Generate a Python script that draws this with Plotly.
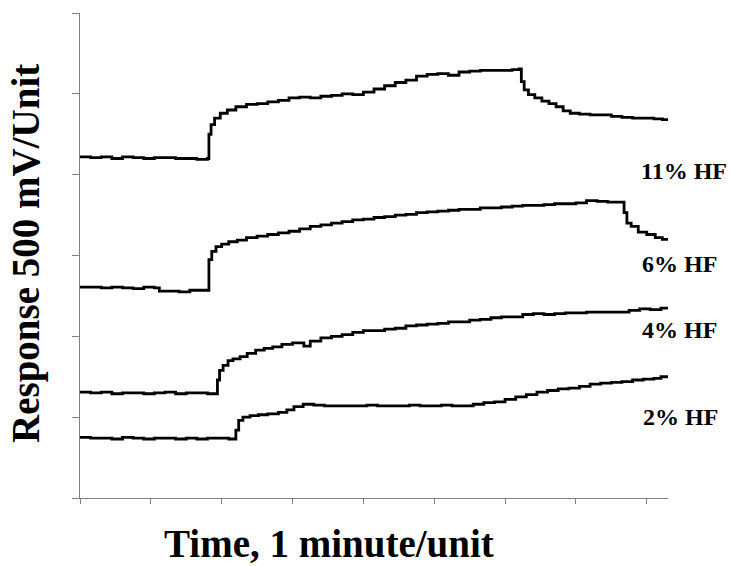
import plotly.graph_objects as go

# ---- data (time in minutes, response in 500 mV units) ----
s11_t = [0.00, 0.15, 0.30, 0.45, 0.60, 0.75, 0.90, 1.05, 1.20, 1.35, 1.50, 1.65, 1.80,
         1.82, 1.85, 1.90, 1.98, 2.08, 2.20, 2.35, 2.50, 2.65, 2.80, 2.95, 3.10, 3.25, 3.40, 3.55, 3.70,
         3.85, 4.00, 4.15, 4.30, 4.45, 4.60, 4.75, 4.90, 5.05, 5.20, 5.35, 5.50, 5.65, 5.80, 5.95, 6.10, 6.20,
         6.23, 6.27, 6.33, 6.42, 6.52, 6.62, 6.72, 6.82, 6.92, 7.05, 7.20, 7.35, 7.50, 7.65, 7.80, 7.95, 8.10, 8.22, 8.32]
s11_v = [4.22, 4.21, 4.22, 4.20, 4.22, 4.21, 4.20, 4.21, 4.21, 4.20, 4.20, 4.19, 4.20,
         4.50, 4.62, 4.70, 4.76, 4.80, 4.84, 4.87, 4.88, 4.90, 4.92, 4.95, 4.96, 4.95, 4.97, 4.98, 5.00,
         4.99, 5.02, 5.06, 5.10, 5.14, 5.17, 5.22, 5.24, 5.25, 5.23, 5.27, 5.28, 5.29, 5.29, 5.29, 5.30, 5.31,
         5.15, 5.05, 4.99, 4.95, 4.91, 4.88, 4.84, 4.79, 4.76, 4.75, 4.74, 4.74, 4.72, 4.71, 4.70, 4.70, 4.69, 4.68, 4.63]

s6_t = [0.00, 0.15, 0.30, 0.45, 0.60, 0.75, 0.90, 1.05, 1.12, 1.25, 1.40, 1.55, 1.70, 1.80,
        1.82, 1.86, 1.92, 2.00, 2.10, 2.22, 2.35, 2.50, 2.65, 2.80, 2.95, 3.10, 3.25, 3.40, 3.55, 3.70,
        3.85, 4.00, 4.15, 4.30, 4.45, 4.60, 4.75, 4.90, 5.05, 5.20, 5.35, 5.50, 5.65, 5.80, 5.95, 6.10,
        6.25, 6.40, 6.55, 6.70, 6.85, 7.00, 7.15, 7.30, 7.45, 7.60, 7.66,
        7.68, 7.72, 7.78, 7.88, 8.00, 8.12, 8.22, 8.32]
s6_v = [2.61, 2.61, 2.60, 2.61, 2.60, 2.59, 2.61, 2.60, 2.56, 2.56, 2.55, 2.57, 2.57, 2.57,
        2.95, 3.05, 3.11, 3.14, 3.17, 3.19, 3.22, 3.24, 3.26, 3.28, 3.30, 3.33, 3.36, 3.38, 3.40, 3.42,
        3.44, 3.45, 3.47, 3.48, 3.50, 3.51, 3.53, 3.54, 3.55, 3.56, 3.57, 3.57, 3.59, 3.59, 3.60, 3.61,
        3.62, 3.62, 3.63, 3.64, 3.64, 3.65, 3.68, 3.67, 3.66, 3.66, 3.66,
        3.53, 3.40, 3.36, 3.29, 3.26, 3.22, 3.20, 3.17]

s4_t = [0.00, 0.15, 0.30, 0.45, 0.60, 0.75, 0.90, 1.05, 1.20, 1.35, 1.50, 1.65, 1.80, 1.92,
        1.94, 1.97, 2.02, 2.09, 2.16, 2.26, 2.36, 2.48, 2.60, 2.72, 2.85, 3.00, 3.12, 3.16, 3.25, 3.40,
        3.55, 3.70, 3.85, 4.00, 4.15, 4.30, 4.45, 4.60, 4.75, 4.90, 5.05, 5.20, 5.35, 5.50, 5.65, 5.80,
        5.95, 6.10, 6.25, 6.40, 6.55, 6.70, 6.85, 7.00, 7.15, 7.30, 7.45, 7.60, 7.75, 7.90, 8.05, 8.20, 8.32]
s4_v = [1.31, 1.30, 1.31, 1.29, 1.30, 1.30, 1.29, 1.30, 1.31, 1.29, 1.30, 1.30, 1.29, 1.29,
        1.46, 1.58, 1.64, 1.70, 1.72, 1.75, 1.79, 1.83, 1.85, 1.87, 1.90, 1.92, 1.92, 1.88, 1.94, 1.98,
        2.00, 2.02, 2.05, 2.07, 2.07, 2.09, 2.10, 2.13, 2.14, 2.15, 2.16, 2.18, 2.18, 2.20, 2.21, 2.23,
        2.24, 2.24, 2.27, 2.28, 2.27, 2.28, 2.29, 2.29, 2.30, 2.30, 2.30, 2.30, 2.32, 2.34, 2.33, 2.35, 2.35]

s2_t = [0.00, 0.15, 0.30, 0.45, 0.60, 0.75, 0.90, 1.05, 1.20, 1.35, 1.50, 1.65, 1.80, 1.95, 2.10, 2.18,
        2.20, 2.24, 2.30, 2.40, 2.52, 2.65, 2.80, 2.92, 3.02, 3.15, 3.30, 3.45, 3.60, 3.75, 3.90, 4.05,
        4.20, 4.35, 4.50, 4.65, 4.80, 4.95, 5.10, 5.25, 5.40, 5.55, 5.70, 5.85, 6.00, 6.15, 6.30, 6.45,
        6.60, 6.75, 6.90, 7.05, 7.20, 7.35, 7.50, 7.65, 7.80, 7.95, 8.10, 8.20, 8.32]
s2_v = [0.75, 0.74, 0.74, 0.73, 0.75, 0.74, 0.73, 0.74, 0.74, 0.73, 0.74, 0.73, 0.74, 0.74, 0.73, 0.73,
        0.84, 0.96, 1.00, 1.02, 1.03, 1.04, 1.06, 1.09, 1.13, 1.16, 1.15, 1.14, 1.14, 1.14, 1.14, 1.15,
        1.14, 1.14, 1.14, 1.15, 1.14, 1.14, 1.15, 1.14, 1.14, 1.16, 1.18, 1.19, 1.22, 1.25, 1.28, 1.31,
        1.33, 1.35, 1.36, 1.38, 1.41, 1.42, 1.43, 1.44, 1.46, 1.47, 1.48, 1.50, 1.50]

series = [("11% HF", s11_t, s11_v), ("6% HF", s6_t, s6_v), ("4% HF", s4_t, s4_v), ("2% HF", s2_t, s2_v)]

labels = ["11% HF", "6% HF", "4% HF", "2% HF"]
label_x = [7.89, 7.91, 7.91, 7.92]
label_y = [4.05, 2.90, 2.08, 1.00]

x_ticks = [0, 1, 2, 3, 4, 5, 6, 7, 8]
y_ticks = [0, 1, 2, 3, 4, 5, 6]

FONT = "Liberation Serif, Times New Roman, serif"

fig = go.Figure()
for name, t, v in series:
    fig.add_trace(go.Scatter(x=t, y=v, mode="lines", name=name, line_shape="hv",
                             line=dict(color="black", width=2.8), cliponaxis=False,
                             showlegend=False, hoverinfo="skip"))

for lab, lx, ly in zip(labels, label_x, label_y):
    fig.add_annotation(x=lx, y=ly, xref="x", yref="y", text="<b>" + lab + "</b>",
                       showarrow=False, xanchor="left", yanchor="middle",
                       font=dict(family=FONT, size=24, color="black"))

fig.add_annotation(x=-0.092, y=0.505, xref="paper", yref="paper", text="<b>Response 500 mV/Unit</b>",
                   textangle=-90, showarrow=False, xanchor="center", yanchor="middle",
                   font=dict(family=FONT, size=39, color="black"))
fig.add_annotation(x=0.423, y=-0.045, xref="paper", yref="paper", text="<b>Time, 1 minute/unit</b>",
                   showarrow=False, xanchor="center", yanchor="top",
                   font=dict(family=FONT, size=39, color="black"))

axis_common = dict(showgrid=False, zeroline=False, showticklabels=False,
                   showline=True, linecolor="#808080", linewidth=1,
                   ticks="outside", tickcolor="#808080", tickwidth=1)
fig.update_xaxes(range=[0, 8.3], tickvals=x_ticks, ticklen=5, **axis_common)
fig.update_yaxes(range=[0, 6], tickvals=y_ticks, ticklen=7, **axis_common)

fig.update_layout(width=741, height=566, margin=dict(l=80, r=73, t=13, b=68),
                  paper_bgcolor="white", plot_bgcolor="white")
fig.write_html("out.html")
